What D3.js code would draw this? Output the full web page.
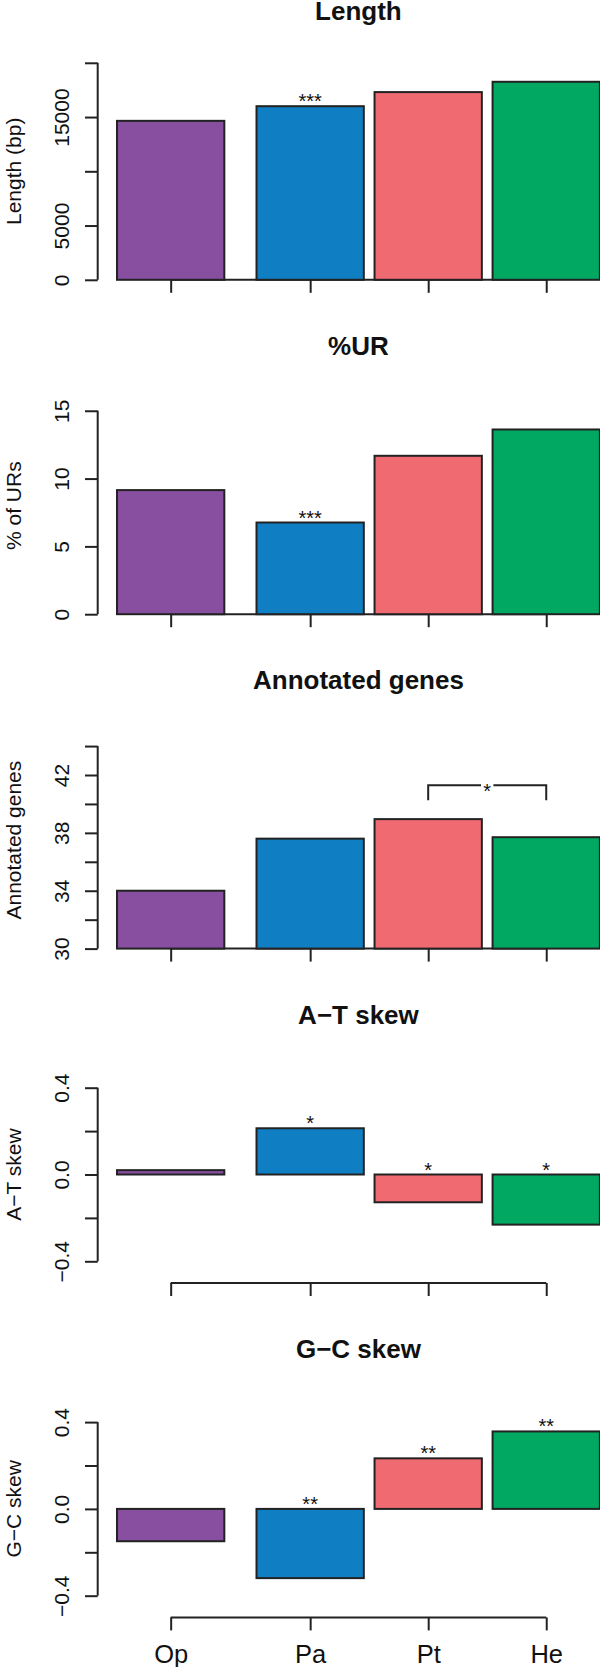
<!DOCTYPE html>
<html><head><meta charset="utf-8">
<script src="https://cdn.jsdelivr.net/npm/d3@7"></script>
<style>body{margin:0;background:#fff}svg{display:block}</style>
</head><body>
<script>
// ---------- data ----------
const groups = ["Op", "Pa", "Pt", "He"];
const groupColors = ["#884EA0", "#107EC2", "#F06A72", "#00A862"];
const panelTitles = ["Length", "%UR", "Annotated genes", "A\u2212T skew", "G\u2212C skew"];
const panelYLabels = ["Length (bp)", "% of URs", "Annotated genes", "A\u2212T skew", "G\u2212C skew"];

const lengthValues = [14650, 16000, 17300, 18250];
const urValues = [9.15, 6.76, 11.68, 13.62];
const geneValues = [34.0, 37.6, 38.95, 37.7];
const atSkewValues = [0.02, 0.213, -0.128, -0.231];
const gcSkewValues = [-0.149, -0.319, 0.233, 0.357];

const lengthTicks = [0, 5000, 10000, 15000, 20000];
const lengthTickLabels = ["0", "5000", "", "15000", ""];
const urTicks = [0, 5, 10, 15];
const urTickLabels = ["0", "5", "10", "15"];
const geneTicks = [30, 32, 34, 36, 38, 40, 42, 44];
const geneTickLabels = ["30", "", "34", "", "38", "", "42", ""];
const skewTicks = [-0.4, -0.2, 0, 0.2, 0.4];
const skewTickLabels = ["\u22120.4", "", "0.0", "", "0.4"];

const lengthDomain = [0, 20000];
const urDomain = [0, 16];
const geneDomain = [30, 45];
const skewDomain = [-0.5, 0.5];

const lengthStars = ["", "***", "", ""];
const urStars = ["", "***", "", ""];
const geneStars = ["", "", "", ""];
const atStars = ["", "*", "*", "*"];
const gcStars = ["", "**", "**", "**"];

// bracket comparison in the gene panel: Pt vs He
const geneBracket = { from: "Pt", to: "He", level: 41.3, end: 40.26, label: "*" };

// bar spacing (in bar widths) before each bar
const barSpace = [0.1, 0.3, 0.1, 0.1];

const panels = [
  { values: lengthValues, ticks: lengthTicks, labels: lengthTickLabels, domain: lengthDomain, stars: lengthStars },
  { values: urValues, ticks: urTicks, labels: urTickLabels, domain: urDomain, stars: urStars },
  { values: geneValues, ticks: geneTicks, labels: geneTickLabels, domain: geneDomain, stars: geneStars, bracket: geneBracket },
  { values: atSkewValues, ticks: skewTicks, labels: skewTickLabels, domain: skewDomain, stars: atStars },
  { values: gcSkewValues, ticks: skewTicks, labels: skewTickLabels, domain: skewDomain, stars: gcStars }
];

// ---------- layout ----------
const W = 600, H = 1667;
const FONT = "'Liberation Sans', Arial, Helvetica, sans-serif";
const INK = "#222";
const panelStep = 334.4;
const plotBottomRel = 279.8;
const plotHeight = 217;
const axisX = 97.7;

const lefts = [];
{ let acc = 0; barSpace.forEach(s => { acc += s; lefts.push(acc); acc += 1; }); }
const centers = lefts.map(l => l + 0.5);

const x = d3.scaleLinear().domain([-0.08, 4.78]).range([axisX, 619.2]);

const svg = d3.select("body").append("svg").attr("width", W).attr("height", H)
  .style("font-family", FONT);

panels.forEach((p, i) => {
  const top = i * panelStep;
  const bottom = top + plotBottomRel;
  const y = d3.scaleLinear().domain(p.domain).range([bottom, bottom - plotHeight]);
  const base = p.domain[0] >= 0 ? p.domain[0] : 0;
  const g = svg.append("g");

  // title
  g.append("text").attr("x", (x.range()[0] + x.range()[1]) / 2).attr("y", top + 20.3)
    .attr("text-anchor", "middle").attr("font-weight", "bold").attr("font-size", 26)
    .attr("fill", "#111").text(panelTitles[i]);

  // y label
  const yc = bottom - plotHeight / 2;
  g.append("text").attr("transform", `translate(20.5,${yc}) rotate(-90)`)
    .attr("text-anchor", "middle").attr("font-size", 21).attr("fill", "#111")
    .text(panelYLabels[i]);

  // x axis (line between first and last tick)
  const xAxis = d3.axisBottom(x).tickValues(centers).tickSize(13)
    .tickFormat((d, k) => i === panels.length - 1 ? groups[k] : "");
  const xa = g.append("g").attr("transform", `translate(0,${bottom})`).call(xAxis);
  xa.select(".domain").remove();
  xa.append("line").attr("x1", x(centers[0])).attr("x2", x(centers[centers.length - 1]))
    .attr("y1", 0).attr("y2", 0).attr("stroke", INK).attr("stroke-width", 2);
  xa.selectAll(".tick line").attr("stroke", INK).attr("stroke-width", 2);
  xa.selectAll(".tick text").attr("y", 45.6).attr("dy", 0).attr("font-size", 25.5)
    .attr("font-family", FONT).attr("fill", "#111");

  // bars
  g.selectAll("rect.bar").data(p.values).join("rect").attr("class", "bar")
    .attr("x", (d, k) => x(lefts[k]))
    .attr("width", (d, k) => x(lefts[k] + 1) - x(lefts[k]))
    .attr("y", d => Math.min(y(d), y(base)))
    .attr("height", d => Math.abs(y(d) - y(base)))
    .attr("fill", (d, k) => groupColors[k])
    .attr("stroke", INK).attr("stroke-width", 2);

  // y axis
  const yAxis = d3.axisLeft(y).tickValues(p.ticks).tickSize(12.7)
    .tickFormat((d, k) => p.labels[k]);
  const ya = g.append("g").attr("transform", `translate(${axisX},0)`).call(yAxis);
  ya.select(".domain").remove();
  ya.append("line").attr("x1", 0).attr("x2", 0)
    .attr("y1", y(p.ticks[0])).attr("y2", y(p.ticks[p.ticks.length - 1]))
    .attr("stroke", INK).attr("stroke-width", 2);
  ya.selectAll(".tick line").attr("stroke", INK).attr("stroke-width", 2);
  ya.selectAll(".tick text").attr("x", 0).attr("y", -28.7).attr("dy", 0)
    .attr("transform", "rotate(-90)").attr("text-anchor", "middle")
    .attr("font-size", 21).attr("font-family", FONT).attr("fill", "#111");

  // significance stars
  g.selectAll("text.star").data(p.stars).join("text").attr("class", "star")
    .attr("x", (d, k) => x(centers[k]))
    .attr("y", (d, k) => y(Math.max(p.values[k], base)) + 2)
    .attr("text-anchor", "middle").attr("font-size", 20).attr("fill", "#111")
    .text(d => d);

  // bracket
  if (p.bracket) {
    const b = p.bracket;
    const x1 = x(centers[groups.indexOf(b.from)]);
    const x2 = x(centers[groups.indexOf(b.to)]);
    const xm = (x1 + x2) / 2;
    const yl = y(b.level), ye = y(b.end);
    const gap = 6.2;
    const path = `M${x1},${ye}V${yl}H${xm - gap}M${xm + gap},${yl}H${x2}V${ye}`;
    g.append("path").attr("d", path).attr("fill", "none").attr("stroke", INK).attr("stroke-width", 2);
    g.append("text").attr("x", xm).attr("y", yl + 12.5).attr("text-anchor", "middle")
      .attr("font-size", 20).attr("fill", "#111").text(b.label);
  }
});
</script>
</body></html>
